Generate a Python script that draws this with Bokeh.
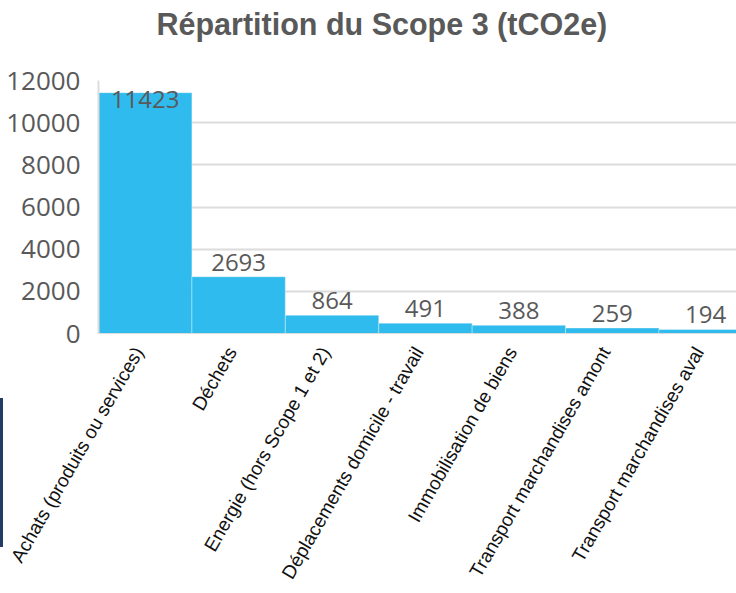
import numpy as np
from bokeh.plotting import figure
from bokeh.layouts import row
from bokeh.models import Range1d, FixedTicker, ColumnDataSource, LabelSet, Div, Title
from bokeh.core.properties import value
from bokeh.embed import file_html
from bokeh.resources import INLINE

# ---- data ----
categories = [
    "Achats (produits ou services)",
    "Déchets",
    "Energie (hors Scope 1 et 2)",
    "Déplacements domicile - travail",
    "Immobilisation de biens",
    "Transport marchandises amont",
    "Transport marchandises aval",
]
values = [11423, 2693, 864, 491, 388, 259, 194]
y_ticks = [0, 2000, 4000, 6000, 8000, 10000, 12000]
title_text = "Répartition du Scope 3 (tCO2e)"

# ---- styling / layout ----
STRIPE_W = 3
W, H = 736 - STRIPE_W, 593
BORDER_L, BORDER_R, BORDER_T, BORDER_B = 97 - STRIPE_W, 0, 80, 260
Y_MAX = y_ticks[-1]
X_VISIBLE = 6.83          # last bar is cut off by the window edge
BAR_COLOR = "#30BBEE"
GRAY = "#595959"
GRID = "#DCDCDC"
LABEL_BOX_PX = 33         # height of a value label box
XLABEL_SHIFT = 0.072      # nudge rotated category labels left (in bar widths)

n = len(categories)
centers = np.arange(n) + 0.5
frame_h = H - BORDER_T - BORDER_B
label_box_data = LABEL_BOX_PX * Y_MAX / frame_h
vals = np.array(values, dtype=float)
label_y = np.minimum(vals, Y_MAX - label_box_data)

src = ColumnDataSource(dict(
    x=centers, top=vals, label_y=label_y,
    txt=[str(v) for v in values],
))

p = figure(
    width=W, height=H,
    x_range=Range1d(0, X_VISIBLE), y_range=Range1d(0, Y_MAX),
    output_backend="svg", toolbar_location=None,
    min_border_left=BORDER_L, min_border_right=BORDER_R,
    min_border_top=BORDER_T, min_border_bottom=BORDER_B,
)
p.outline_line_color = None
p.background_fill_color = "white"
p.border_fill_color = "white"

p.xgrid.grid_line_color = None
p.ygrid.grid_line_color = GRID
p.ygrid.grid_line_width = 2
p.ygrid.ticker = FixedTicker(ticks=y_ticks)

p.vbar(x="x", top="top", bottom=0, width=1, source=src,
       fill_color=BAR_COLOR, line_color="white", line_alpha=0.35, line_width=1)

labels = LabelSet(x="x", y="label_y", text="txt", source=src,
                  text_align="center", text_baseline="bottom", y_offset=6,
                  text_font=value("Open Sans"), text_font_size=value("24px"),
                  text_color=GRAY)
p.add_layout(labels)

# title (outermost) plus an invisible spacer between it and the frame
p.title.text = title_text
p.title.text_font = "Liberation Sans"
p.title.text_font_size = "30.5px"
p.title.text_font_style = "bold"
p.title.text_color = GRAY
p.title.align = "left"
p.title.offset = 58
p.title.standoff = 8
spacer = Title(text=" ", text_font_size="1px", standoff=33)
p.add_layout(spacer, "above")

# y axis
p.yaxis.ticker = FixedTicker(ticks=y_ticks)
p.yaxis.major_tick_line_color = None
p.yaxis.minor_tick_line_color = None
p.yaxis.axis_line_color = GRID
p.yaxis.axis_line_width = 2
p.yaxis.major_label_text_font = "Open Sans"
p.yaxis.major_label_text_font_size = "26px"
p.yaxis.major_label_text_color = GRAY
p.yaxis.major_label_standoff = 12

# x axis
xticks = [float(c - XLABEL_SHIFT) for c in centers]
p.xaxis.ticker = FixedTicker(ticks=xticks)
p.xaxis.major_label_overrides = {t: cat for t, cat in zip(xticks, categories)}
p.xaxis.major_tick_line_color = None
p.xaxis.minor_tick_line_color = None
p.xaxis.axis_line_color = GRID
p.xaxis.major_label_orientation = np.pi / 3
p.xaxis.major_label_text_font = "Liberation Sans"
p.xaxis.major_label_text_font_size = "19px"
p.xaxis.major_label_text_color = "#111111"
p.xaxis.major_label_standoff = 9

# decorative dark stripe at the far left of the screenshot
stripe = Div(width=STRIPE_W, height=H,
             text='<div style="margin-top:398px;width:3px;height:149px;'
                  'background:#213D66"></div>',
             styles={"margin": "0", "padding": "0"})

layout = row(stripe, p, spacing=0)

open("out.html", "w").write(file_html(layout, INLINE))
